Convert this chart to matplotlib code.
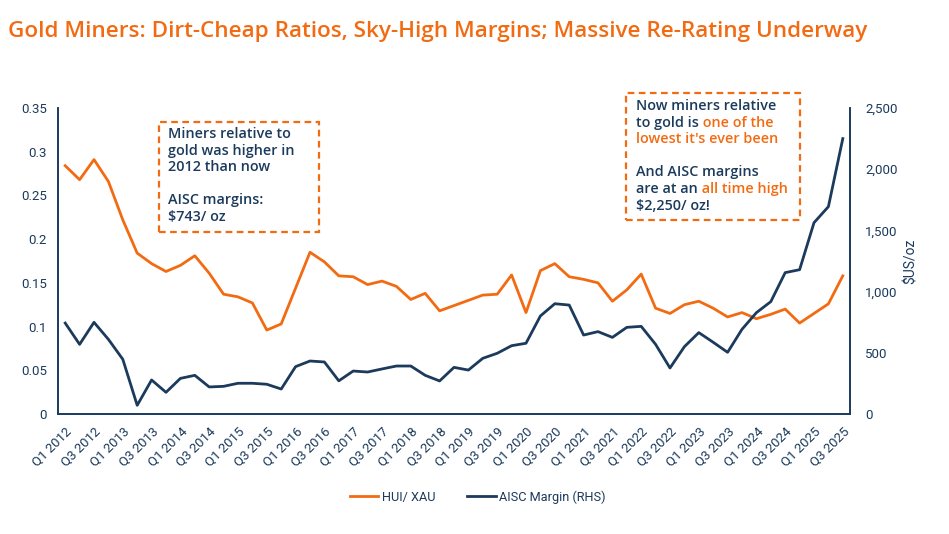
import numpy as np
import matplotlib
matplotlib.use("Agg")
import matplotlib.pyplot as plt
from matplotlib.patches import Rectangle
from matplotlib.ticker import FuncFormatter, MultipleLocator

ORANGE = "#F26B12"
NAVY = "#1B3A5C"

plt.rcParams['font.family'] = ['Roboto', 'DejaVu Sans']
BOXFONT = ['Open Sans', 'DejaVu Sans']

# quarters Q1 2012 .. Q3 2025
quarters = []
for yr in range(2012, 2026):
    for q in range(1, 5):
        if yr == 2025 and q > 3:
            break
        quarters.append("Q%d %d" % (q, yr))

hui_xau = [0.284, 0.268, 0.291, 0.266, 0.222, 0.184, 0.172, 0.163, 0.170, 0.181,
           0.161, 0.137, 0.134, 0.127, 0.096, 0.103, 0.144, 0.185, 0.174, 0.158,
           0.157, 0.148, 0.152, 0.146, 0.131, 0.138, 0.118, 0.124, 0.130, 0.136,
           0.137, 0.159, 0.116, 0.164, 0.172, 0.157, 0.154, 0.150, 0.129, 0.142,
           0.160, 0.121, 0.115, 0.125, 0.129, 0.121, 0.111, 0.116, 0.109, 0.114,
           0.120, 0.104, 0.115, 0.126, 0.158]

aisc_margin = [743, 569, 749, 610, 447, 71, 278, 177, 291, 316,
               221, 226, 251, 251, 243, 204, 387, 433, 425, 271,
               351, 343, 368, 392, 392, 316, 270, 381, 359, 455,
               496, 558, 578, 801, 901, 890, 645, 673, 626, 708,
               716, 569, 376, 550, 665, 586, 504, 692, 828, 918,
               1155, 1179, 1563, 1694, 2250]

W, H = 949, 534
fig = plt.figure(figsize=(W / 100, H / 100), dpi=100)
ax = fig.add_axes([58 / W, 1 - 414 / H, (850 - 58) / W, (414 - 108) / H])
ax2 = ax.twinx()

x = np.arange(len(quarters))
l1, = ax.plot(x, hui_xau, color=ORANGE, lw=2.0, label="HUI/ XAU")
l2, = ax2.plot(x, aisc_margin, color=NAVY, lw=2.0, label="AISC Margin (RHS)")

ax.set_xlim(-0.5, len(quarters) - 0.5)
ax.set_ylim(0, 0.35)
ax2.set_ylim(0, 2500)
ax.yaxis.set_major_locator(MultipleLocator(0.05))
ax.yaxis.set_major_formatter(FuncFormatter(lambda v, p: "0" if v == 0 else ("%.2f" % v).rstrip("0")))
ax2.yaxis.set_major_locator(MultipleLocator(500))
ax2.yaxis.set_major_formatter(FuncFormatter(lambda v, p: "{:,.0f}".format(v)))

ax.set_xticks(x[::2])
ax.set_xticklabels(quarters[::2], rotation=45, ha="right", rotation_mode="anchor")

for a in (ax, ax2):
    a.tick_params(length=0, colors=NAVY, labelsize=9.5)
    for s in a.spines.values():
        s.set_color(NAVY)
        s.set_linewidth(1.2)
    a.spines["top"].set_visible(False)
ax.tick_params(axis="y", pad=8)
ax.tick_params(axis="x", pad=8)
ax2.tick_params(axis="y", pad=11)
ax2.set_ylabel(r"\$US/oz", color=NAVY, fontsize=10, labelpad=4)

fig.text(8 / W, 1 - 31 / H, "Gold Miners: Dirt-Cheap Ratios, Sky-High Margins; Massive Re-Rating Underway",
         color=ORANGE, fontsize=16.2, fontweight="semibold", va="center", ha="left",
         family=BOXFONT)

fig.legend(handles=[l1, l2], loc="center", bbox_to_anchor=(478 / W, 1 - 497 / H), ncol=2,
           frameon=False, fontsize=9.2, handlelength=2.2, columnspacing=2.5,
           handletextpad=0.3, labelcolor=NAVY)


def px(xp, yp):
    return (xp / W, 1 - yp / H)


def text_line(xp, yp, parts, size=10.4):
    last = None
    for txt, col in parts:
        if last is None:
            last = fig.text(*px(xp, yp), txt, color=col, fontsize=size, fontweight="semibold",
                            va="center", ha="left", family=BOXFONT)
        else:
            last = ax.annotate(txt, xy=(1, 0), xycoords=last, va="bottom", ha="left",
                               color=col, fontsize=size, fontweight="semibold",
                               family=BOXFONT, annotation_clip=False)


# left box
fig.add_artist(Rectangle(px(159, 232), 160 / W, 110 / H, transform=fig.transFigure,
                         fill=False, ec=ORANGE, lw=1.6, ls=(0, (3, 2))))
lines1 = ["Miners relative to", "gold was higher in", "2012 than now", "",
          "AISC margins:", r"\$743/ oz"]
for i, t in enumerate(lines1):
    if t:
        text_line(168, 134 + i * 16.6, [(t, NAVY)])

# right box
fig.add_artist(Rectangle(px(626, 220), 174 / W, 127 / H, transform=fig.transFigure,
                         fill=False, ec=ORANGE, lw=1.6, ls=(0, (3, 2))))
lines2 = [[("Now miners relative", NAVY)],
          [("to gold is", NAVY), (" one of the", ORANGE)],
          [("lowest it's ever been", ORANGE)],
          [],
          [("And AISC margins", NAVY)],
          [("are at an", NAVY), (" all time high", ORANGE)],
          [(r"\$2,250/ oz!", NAVY)]]
for i, parts in enumerate(lines2):
    if parts:
        text_line(636, 106 + i * 16.6, parts)

fig.savefig("out.png", dpi=100)
